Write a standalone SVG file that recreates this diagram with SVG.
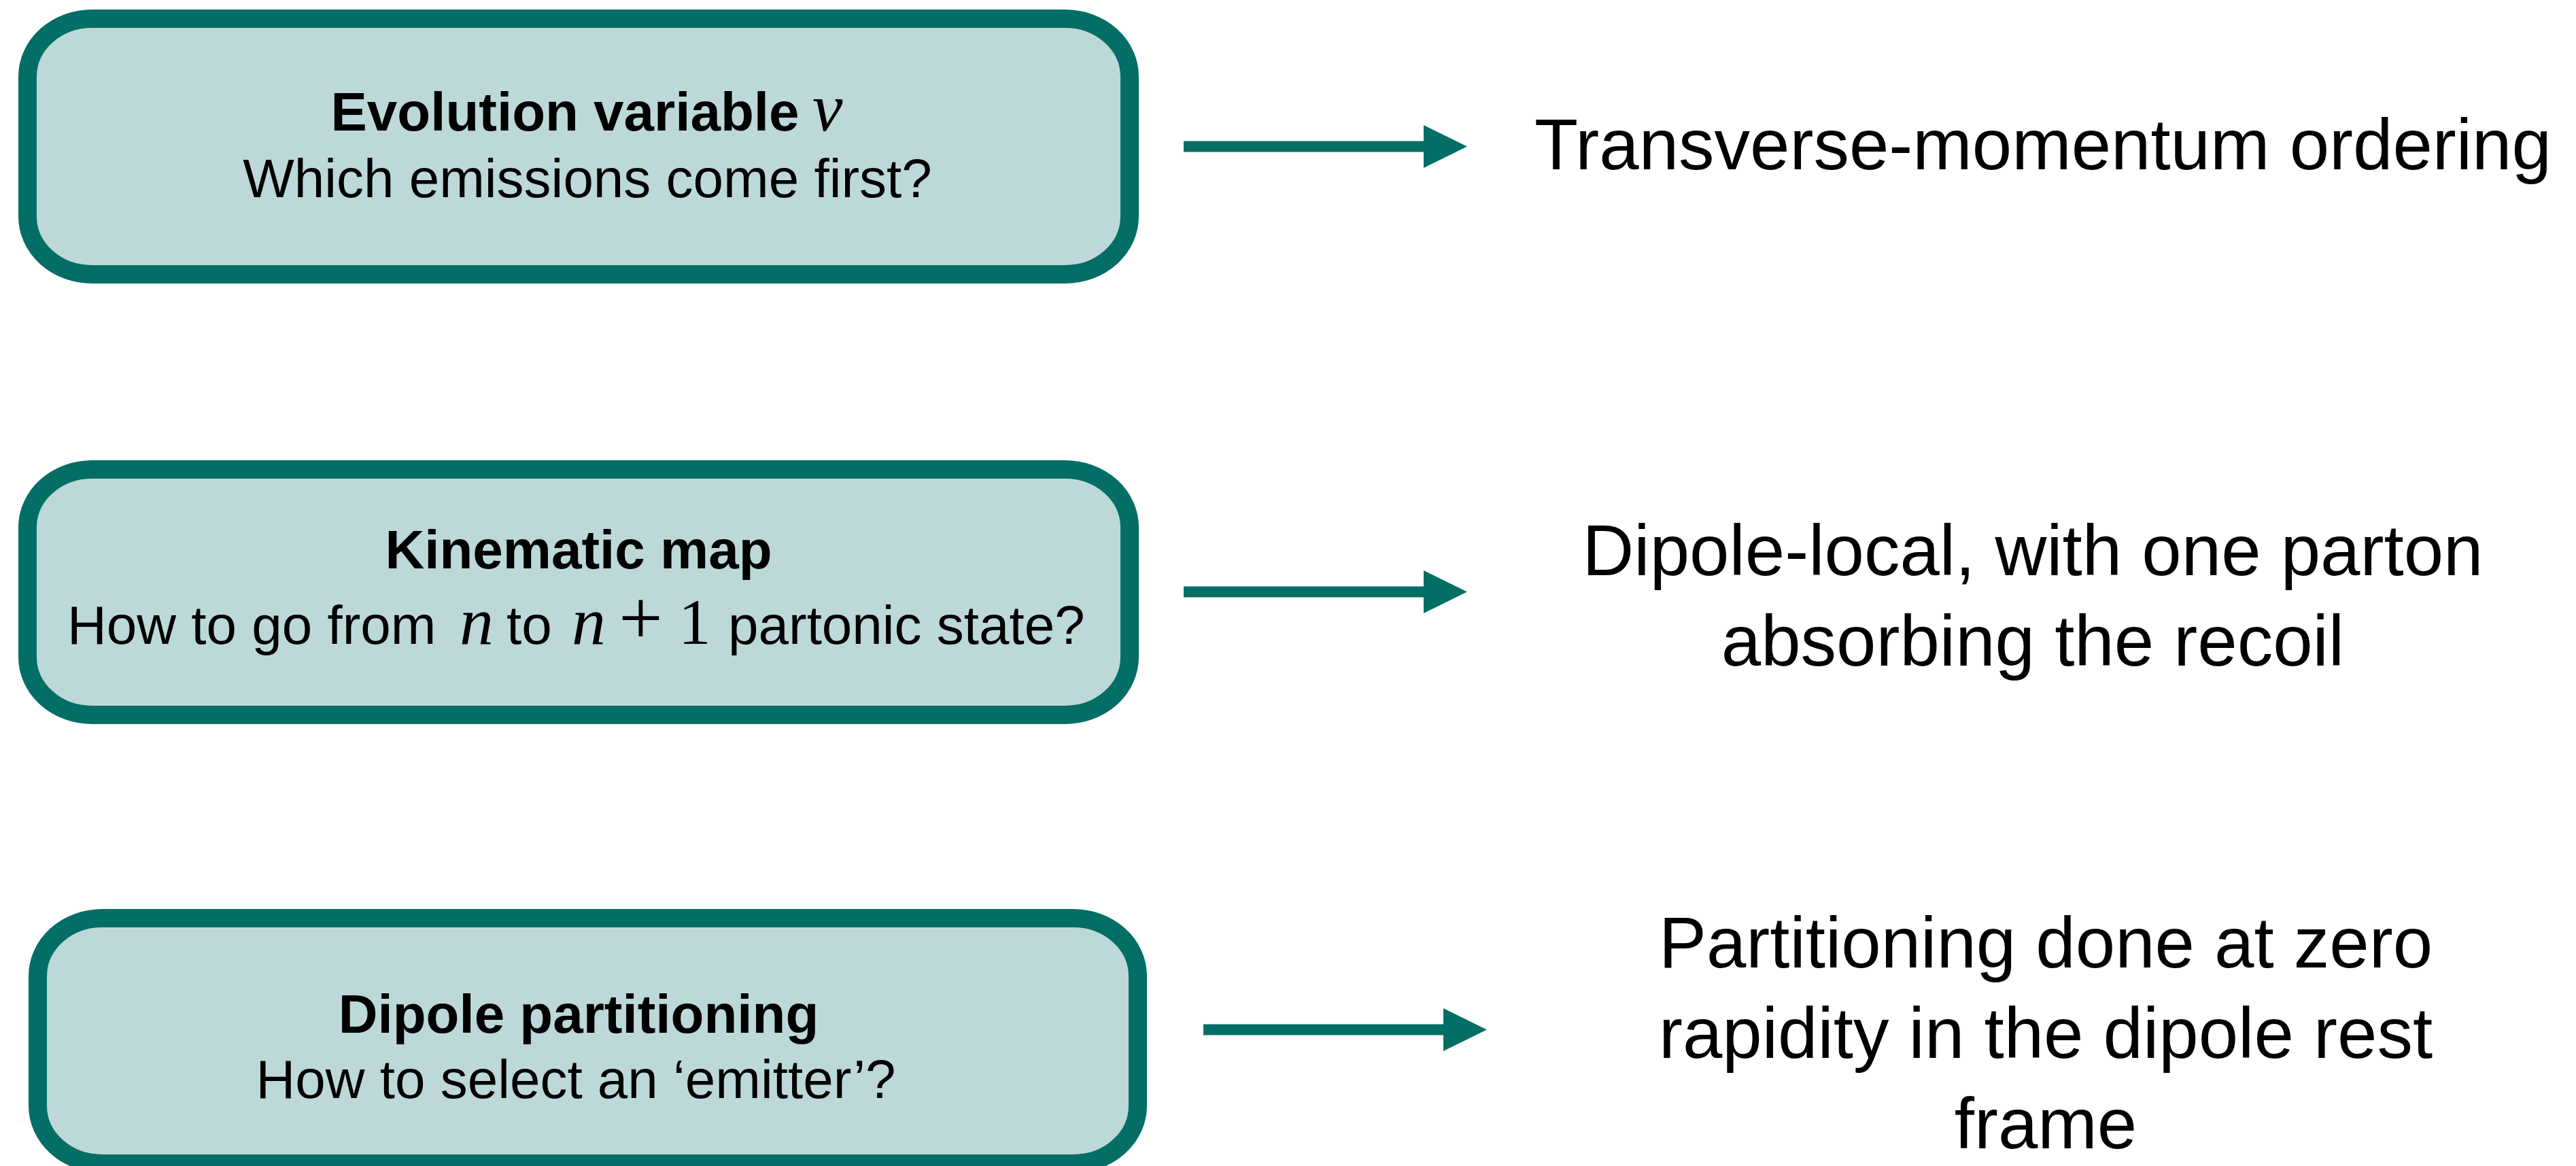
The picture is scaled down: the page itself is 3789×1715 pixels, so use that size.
<svg xmlns="http://www.w3.org/2000/svg" width="3789" height="1715" viewBox="0 0 3789 1715">
<defs>
<style>
.box{fill:#bdd8d8;stroke:#036e66;stroke-width:27}
.t{font-family:"Liberation Sans",Arial,Helvetica,sans-serif;fill:#000}
.b{font-weight:bold;font-size:80px}
.r{font-size:80px}
.big{font-size:105px;text-anchor:middle}
.m{font-family:"Liberation Serif","Times New Roman",serif;fill:#000}
.i{font-style:italic}
.arr{stroke:#036e66;stroke-width:16;fill:none}
</style>
<marker id="head" markerUnits="userSpaceOnUse" markerWidth="64" markerHeight="63" refX="0" refY="31.5" orient="auto">
<path d="M0,0 L64,31.5 L0,63 Z" fill="#036e66"/>
</marker>
</defs>
<rect width="3789" height="1715" fill="#ffffff"/>
<g id="node-evolution">
<rect class="box" x="40.5" y="27.5" width="1621" height="376" rx="95" ry="85"/>
<text class="t b" x="831" y="192" text-anchor="middle">Evolution variable</text>
<text class="m i" x="1195" y="192" font-size="100">v</text>
<text class="t r" x="864" y="290" text-anchor="middle">Which emissions come first?</text>
</g>
<g id="node-kinematic">
<rect class="box" x="40.5" y="690.5" width="1621" height="361" rx="95" ry="85"/>
<text class="t b" x="851" y="836" text-anchor="middle">Kinematic map</text>
<text class="t r" x="99" y="947">How to go from</text>
<text class="m i" x="676" y="947" font-size="100">n</text>
<text class="t r" x="745" y="947">to</text>
<text class="m i" x="841" y="947" font-size="100">n</text>
<text class="m" x="910" y="947" font-size="115">+</text>
<text class="m" x="998" y="947" font-size="95">1</text>
<text class="t r" x="1071" y="947">partonic state?</text>
</g>
<g id="node-partitioning">
<rect class="box" x="55.5" y="1350.5" width="1618" height="361" rx="95" ry="85"/>
<text class="t b" x="851" y="1519" text-anchor="middle">Dipole partitioning</text>
<text class="t r" x="847" y="1615" text-anchor="middle">How to select an ‘emitter’?</text>
</g>
<g id="label-ordering">
<text class="t big" x="3005" y="249">Transverse-momentum ordering</text>
</g>
<g id="label-recoil">
<text class="t big" x="2990" y="846">Dipole-local, with one parton</text>
<text class="t big" x="2990" y="979">absorbing the recoil</text>
</g>
<g id="label-frame">
<text class="t big" x="3009" y="1423">Partitioning done at zero</text>
<text class="t big" x="3009" y="1556">rapidity in the dipole rest</text>
<text class="t big" x="3009" y="1689">frame</text>
</g>
<g id="connectors">
<line class="arr" x1="1741" y1="215.5" x2="2094" y2="215.5" marker-end="url(#head)"/>
<line class="arr" x1="1741" y1="870.5" x2="2094" y2="870.5" marker-end="url(#head)"/>
<line class="arr" x1="1770" y1="1514.5" x2="2123" y2="1514.5" marker-end="url(#head)"/>
</g>
</svg>
